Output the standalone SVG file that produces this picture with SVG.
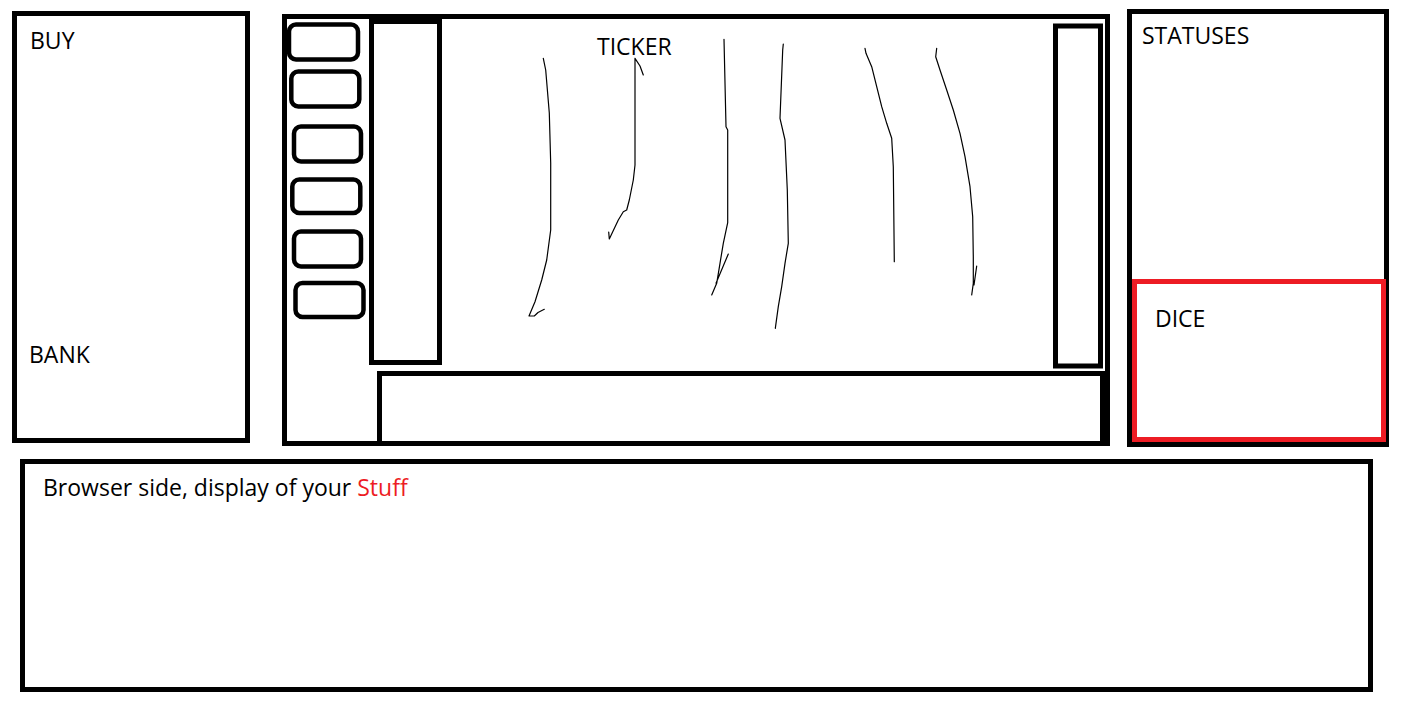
<svg xmlns="http://www.w3.org/2000/svg" width="1403" height="708" viewBox="0 0 1403 708">
<style>
.box{fill:none;stroke:#000;stroke-width:5}
.btn{fill:none;stroke:#000;stroke-width:4.5}
.red{fill:none;stroke:#ED1C24;stroke-width:5}
.ink{fill:none;stroke:#000;stroke-width:1.2;stroke-linejoin:round;stroke-linecap:round}
.lbl{font-family:"Open Sans","Noto Sans",sans-serif;font-size:23px;fill:#000}
</style>
<rect width="1403" height="708" fill="#fff"/>
<g id="buy-bank">
<rect class="box" x="14.5" y="13.5" width="233" height="427"/>
<text class="lbl" x="30" y="49">BUY</text>
<text class="lbl" x="29" y="363">BANK</text>
</g>
<g id="main">
<rect class="box" x="284.5" y="16.5" width="823" height="427"/>
<rect class="box" x="371.5" y="21.5" width="68" height="341"/>
<rect class="box" x="379.5" y="373.5" width="723" height="70"/>
<rect class="box" x="1055.5" y="26" width="45" height="340"/>
<text class="lbl" x="597" y="55">TICKER</text>
</g>
<g id="buttons">
<rect class="btn" x="289" y="24.5" width="69" height="35" rx="7"/>
<rect class="btn" x="291.3" y="71.5" width="68" height="35" rx="7"/>
<rect class="btn" x="294" y="126.5" width="67" height="35" rx="7"/>
<rect class="btn" x="292.3" y="179.5" width="68" height="33.5" rx="7"/>
<rect class="btn" x="294" y="231.5" width="67" height="35" rx="7"/>
<rect class="btn" x="295.5" y="283" width="68" height="34" rx="7"/>
</g>
<g id="ticker-lines">
<path class="ink" d="M543.3,58.3 L545.7,70 L549.3,113 L550.7,163 L550.7,230 L546.7,260 L541.7,280 L535,301.7 L529,316 L534.3,316 L538,312.5 L544.3,309.3"/>
<path class="ink" d="M643.3,75 L640,66 L635,58.3 L635,165 L633.3,180 L629.3,200 L626.7,210 L623.3,211.7 L618.3,220 L609.3,239 L608.7,232"/>
<path class="ink" d="M724,39.3 L726,126.7 L727.7,130 L727.7,222.7 L723.3,243.3 L720,263.3 L716.7,283.3 L711.7,295 M728.3,254 L716,283.3"/>
<path class="ink" d="M783.3,44 L782.7,50 L780,118.3 L785,140 L787.3,190 L788.3,243.3 L785,263.3 L781.7,286.7 L778.3,306.7 L775.3,328.3"/>
<path class="ink" d="M865,48.3 L866,53.3 L871.7,66.7 L876.7,86.7 L881.7,106.7 L886.7,123.3 L891.7,138.3 L893.3,166.7 L894.3,261.7"/>
<path class="ink" d="M936.7,48.3 L935.7,56.7 L940,70 L946.7,90 L953.3,110 L960,133.3 L965,156.7 L970,186.7 L972.7,216.7 L973.3,256.7 L973.3,283.3 L971.7,295 M976.7,266 L974,285"/>
</g>
<g id="statuses">
<rect class="box" x="1129.5" y="11.5" width="257" height="433"/>
<text class="lbl" x="1142" y="44">STATUSES</text>
</g>
<g id="dice">
<rect class="red" x="1134.5" y="281.5" width="249" height="158"/>
<text class="lbl" x="1155" y="327">DICE</text>
</g>
<g id="browser">
<rect class="box" x="22.5" y="461.5" width="1348" height="228"/>
<text class="lbl" x="43" y="496">Browser side, display of your <tspan fill="#ED1C24">Stuff</tspan></text>
</g>
<g id="connectors"/>
</svg>
